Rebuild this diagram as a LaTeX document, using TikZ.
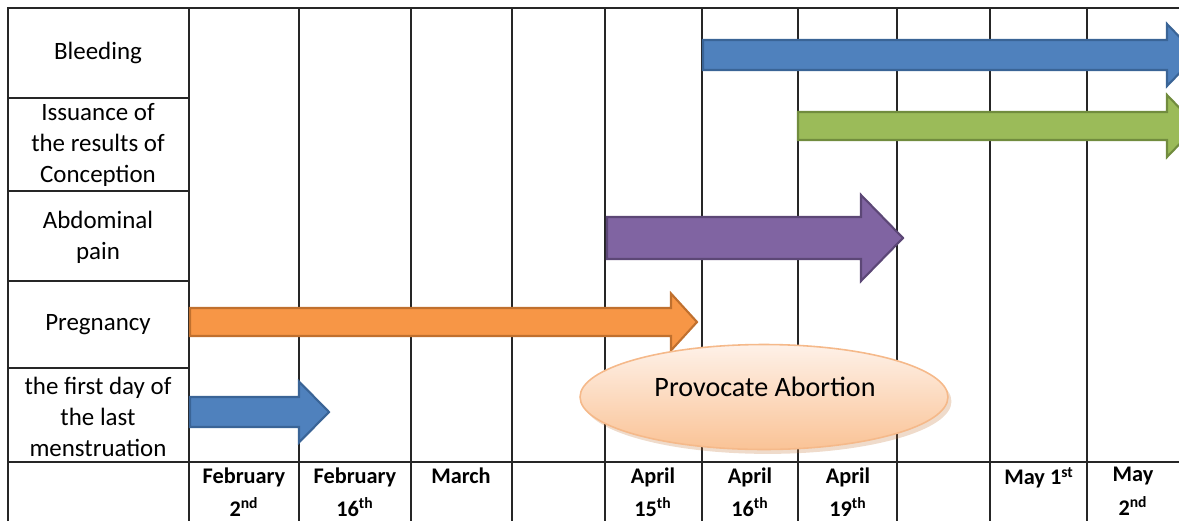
\documentclass[tikz,border=0pt]{standalone}
\usepackage{fontspec}
\setmainfont{Carlito}
\usetikzlibrary{positioning,shapes.geometric,shadows}
\definecolor{barblue}{HTML}{4F81BD}
\definecolor{blueedge}{HTML}{3A6496}
\definecolor{bargreen}{HTML}{9BBB59}
\definecolor{greenedge}{HTML}{718C3E}
\definecolor{barpurple}{HTML}{8064A2}
\definecolor{purpleedge}{HTML}{5C4776}
\definecolor{barorange}{HTML}{F79646}
\definecolor{orangeedge}{HTML}{C0702E}
\definecolor{peachtop}{HTML}{FEF1E8}
\definecolor{peachbot}{HTML}{FAC396}
\definecolor{peachedge}{HTML}{F5B98A}
\tikzset{
  gridline/.style={line width=0.75pt,black!85},
  rowlabel/.style={align=center,inner sep=0,font=\fontsize{14.2}{17.6}\selectfont},
  datehead/.style={align=center,inner sep=0,anchor=north,font=\bfseries\fontsize{12.7}{19}\selectfont},
  bar/.style={line width=1.2pt,line join=miter},
  bluebar/.style={bar,draw=blueedge,fill=barblue},
  greenbar/.style={bar,draw=greenedge,fill=bargreen},
  purplebar/.style={bar,draw=purpleedge,fill=barpurple},
  orangebar/.style={bar,draw=orangeedge,fill=barorange},
  bubble/.style={ellipse,draw=peachedge,line width=0.9pt,top color=peachtop,bottom color=peachbot,
    minimum width=7.36cm,minimum height=2.1cm,inner sep=0,
    drop shadow={shadow xshift=2pt,shadow yshift=-2.5pt,opacity=.25,fill=orangeedge}},
}
% #1 style, #2 start, #3 tip, #4 centre line, #5 half shaft, #6 half head, #7 head length
\newcommand{\blockarrow}[7]{%
  \draw[#1] (#2,#4-#5) -- (#3-#7,#4-#5) -- (#3-#7,#4-#6) -- (#3,#4)
    -- (#3-#7,#4+#6) -- (#3-#7,#4+#5) -- (#2,#4+#5) -- cycle;}

\begin{document}
\begin{tikzpicture}[x=0.02cm,y=-0.02cm]
  \useasboundingbox (0,0) rectangle (1179,521);

  % table
  \draw[gridline] (8,521) -- (8,8) -- (1185,8);
  \draw[gridline] (8,462) -- (1185,462);
  \foreach \y in {98,191,281,368}
    \draw[gridline] (8,\y) -- (189,\y);
  \foreach \x in {189,299,411,512,605,702,798,897,990,1087}
    \draw[gridline] (\x,8) -- (\x,521);

  % row labels
  \node[rowlabel] (bleed) at (98,53) {Bleeding};
  \node[rowlabel] (results) at (98,145) {Issuance of\\the results of\\Conception};
  \node[rowlabel] (pain) at (98,237) {Abdominal\\pain};
  \node[rowlabel] (preg) at (98,325) {Pregnancy};
  \node[rowlabel] (lmp) at (98,417) {the first day of\\the last\\menstruation};

  % dates
  \node[datehead] (feb2) at (244,467) {February\\2\textsuperscript{nd}};
  \node[datehead] (feb16) at (355,467) {February\\16\textsuperscript{th}};
  \node[datehead] (march) at (461,467) {March};
  \node[datehead] (apr15) at (653,467) {April\\15\textsuperscript{th}};
  \node[datehead] (apr16) at (750,467) {April\\16\textsuperscript{th}};
  \node[datehead] (apr19) at (848,467) {April\\19\textsuperscript{th}};
  \node[datehead] (may1) at (1039,467) {May 1\textsuperscript{st}};
  \node[datehead] (may2) at (1133,467) {May\\2\textsuperscript{nd}};

  % bars
  \blockarrow{bluebar}{703}{1197}{55}{15}{31}{30}
  \blockarrow{greenbar}{798}{1197}{126}{14}{31}{30}
  \blockarrow{purplebar}{607}{903}{238}{21}{43}{42}
  \blockarrow{orangebar}{190}{697}{322}{14}{28.5}{26}
  \blockarrow{bluebar}{190}{329}{412}{15}{30.5}{30}

  \node[bubble] (abort) at (764,397) {};
  \node[inner sep=0,font=\fontsize{16}{19}\selectfont] (aborttext) at (765,387) {Provocate Abortion};
\end{tikzpicture}
\end{document}
